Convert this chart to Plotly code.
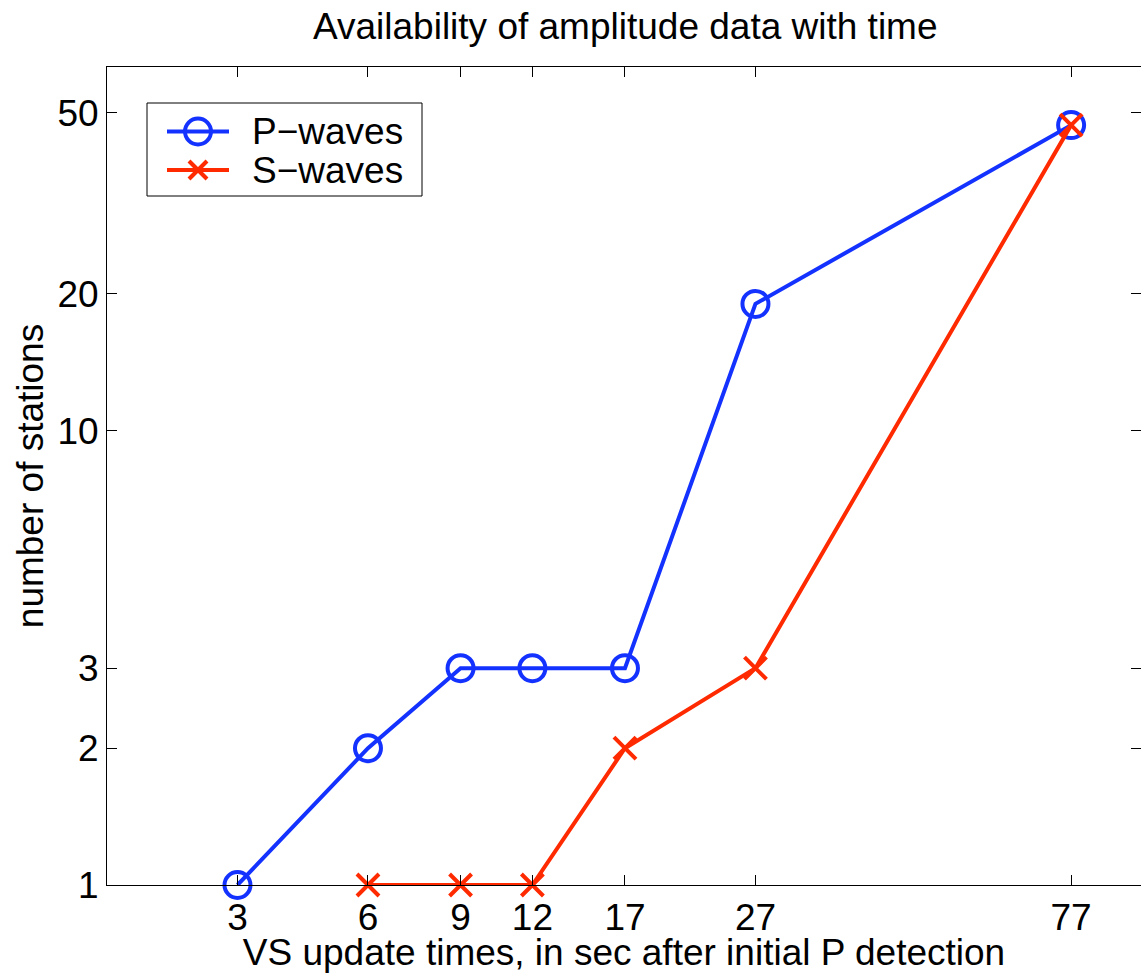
import math
import plotly.graph_objects as go

# Data
update_times = [3, 6, 9, 12, 17, 27, 77]          # sec after initial P detection
p_waves = [1, 2, 3, 3, 3, 19, 47]                 # number of stations
s_waves = [None, 1, 1, 1, 2, 3, 47]
x_offset = 3                                       # axis plotted as log(t + 3)
y_ticks = [1, 2, 3, 10, 20, 50]
series_names = ["P\u2212waves", "S\u2212waves"]

xs = [t + x_offset for t in update_times]

BLUE = "#1432ff"
RED = "#ff2a00"
FONT = "Liberation Sans, Arial, Helvetica, sans-serif"
FS = 37

W, H = 1141, 973
ML, MR, MT, MB = 107, 0, 67, 88
PW, PH = W - ML - MR, H - MT - MB


def px(xp):
    return (xp - ML) / PW


def py(yp):
    return (H - MB - yp) / PH


fig = go.Figure()
fig.add_trace(go.Scatter(
    x=xs, y=p_waves, name=series_names[0], mode="lines+markers",
    line=dict(color=BLUE, width=4),
    marker=dict(symbol="circle-open", size=26, color=BLUE, line=dict(width=4, color=BLUE)),
    cliponaxis=False, showlegend=False,
))
fig.add_trace(go.Scatter(
    x=xs, y=s_waves, name=series_names[1], mode="lines+markers",
    line=dict(color=RED, width=4),
    marker=dict(symbol="x-thin", size=22, color=RED, line=dict(width=4, color=RED)),
    cliponaxis=False, showlegend=False,
))

# Legend (MATLAB style box)
shapes = [
    dict(type="rect", xref="paper", yref="paper", x0=px(147), x1=px(422), y0=py(196), y1=py(103),
         line=dict(color="black", width=1), fillcolor="white", layer="above"),
]
annotations = []
rows = [(131.5, BLUE, "circle"), (170, RED, "x")]
for (yc, col, sym), name in zip(rows, series_names):
    shapes.append(dict(type="line", xref="paper", yref="paper", x0=px(167), x1=px(229),
                       y0=py(yc), y1=py(yc), line=dict(color=col, width=4), layer="above"))
    if sym == "circle":
        shapes.append(dict(type="circle", xref="paper", yref="paper",
                           x0=px(198 - 13), x1=px(198 + 13), y0=py(yc + 13), y1=py(yc - 13),
                           line=dict(color=col, width=4), layer="above"))
    else:
        for d in (1, -1):
            shapes.append(dict(type="line", xref="paper", yref="paper",
                               x0=px(198 - 9), x1=px(198 + 9), y0=py(yc + 9 * d), y1=py(yc - 9 * d),
                               line=dict(color=col, width=4), layer="above"))
    annotations.append(dict(text=name, xref="paper", yref="paper", x=px(250), y=py(yc),
                            xanchor="left", yanchor="middle", showarrow=False,
                            font=dict(size=FS, family=FONT, color="black")))

fig.update_layout(
    width=W, height=H,
    margin=dict(l=ML, r=MR, t=MT, b=MB),
    paper_bgcolor="white", plot_bgcolor="white",
    font=dict(family=FONT, size=FS, color="black"),
    title=dict(text="Availability of amplitude data with time", x=0.548, xanchor="center",
               y=1 - 26 / H, yanchor="middle", yref="container",
               font=dict(size=FS, family=FONT, color="black")),
    showlegend=False,
    shapes=shapes,
    annotations=annotations,
)
fig.update_xaxes(
    type="log", range=[math.log10(4), math.log10(99.4)],
    tickvals=xs, ticktext=[str(t) for t in update_times],
    tickfont=dict(size=FS, family=FONT, color="black"),
    ticks="inside", ticklen=10, tickcolor="black", tickwidth=1,
    showline=True, linecolor="black", linewidth=1, mirror="ticks",
    showgrid=False, zeroline=False,
    title=dict(text="VS update times, in sec after initial P detection", standoff=2,
               font=dict(size=FS, family=FONT, color="black")),
)
fig.update_yaxes(
    type="log", range=[0, 1.8],
    tickvals=y_ticks, ticktext=[str(v) for v in y_ticks],
    tickfont=dict(size=FS, family=FONT, color="black"),
    ticks="inside", ticklen=10, tickcolor="black", tickwidth=1,
    showline=True, linecolor="black", linewidth=1, mirror="ticks",
    showgrid=False, zeroline=False,
    title=dict(text="number of stations", standoff=2,
               font=dict(size=FS, family=FONT, color="black")),
)

fig.write_html("out.html")
